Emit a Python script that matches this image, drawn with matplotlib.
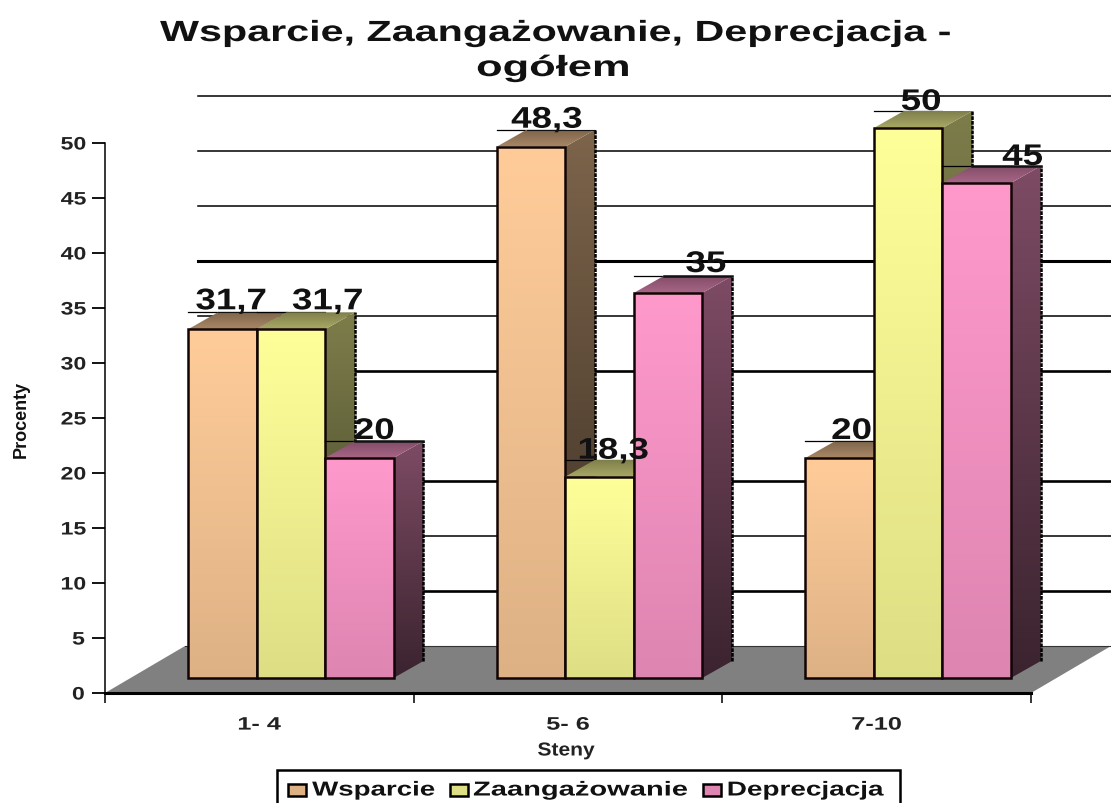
#!/usr/bin/env python3
# Wsparcie / Zaangazowanie / Deprecjacja - fake 3D bars on plain axes
from matplotlib import pyplot as plt
from matplotlib.patches import Polygon, Rectangle
from matplotlib.patheffects import AbstractPathEffect
from matplotlib.transforms import Affine2D
import numpy as np

# data
categories = ["1- 4", "5- 6", "7-10"]
series_names = ["Wsparcie", "Zaangażowanie", "Deprecjacja"]
wsparcie = [31.7, 48.3, 20]
zaangazowanie = [31.7, 18.3, 50]
deprecjacja = [20, 35, 45]
value_labels = [["31,7", "48,3", "20"], ["31,7", "18,3", "50"], ["20", "35", "45"]]
grid_values = [50, 45, 40, 35, 30, 25, 15, 10, 5]
grid_widths = [1.1, 1.1, 1.1, 2.2, 1.1, 1.9, 1.9, 1.1, 1.9]
y_ticks = np.arange(0, 55, 5)

# style
colors = [(255, 204, 153), (255, 255, 153), (255, 153, 204)]
roof_edge = [0.8, 0, 1.8]
W, H = 1111, 804
X0, Y0 = 105, 694            # pixel position of the axes origin
PX_X = 1 / 308.67            # one pixel in category units
PX_Y = 1 / 11.0              # one pixel in percent units
FLOOR_DX, FLOOR_DY = 80 * PX_X, 47 * PX_Y
BAR_DX, BAR_DY = 30 * PX_X, 17 * PX_Y
LIFT = 15 * PX_Y
BAR_W = 68.5 * PX_X
GROUP_START = 83 * PX_X
# label centre shift from the bar centre, pixels
label_shift = [[9, 16, 12], [37, 14, 13], [15, 38, 46]]
label_rise = [[29, 28, 28], [29, 27, 27], [28, 30, 27]]
# legend layout, pixels: swatch left, text left, text right
legend_slots = [(288, 312, 435), (450, 473, 688), (703, 727, 884)]

plt.rcParams["font.family"] = "Liberation Sans"
plt.rcParams["font.weight"] = "bold"

fig = plt.figure(figsize=(W / 100, H / 100), dpi=100)
ax = fig.add_axes([0, 0, 1, 1])
xlim = (-X0 * PX_X, (W - X0) * PX_X)
ylim = ((Y0 - H) * PX_Y, Y0 * PX_Y)


class StretchX(AbstractPathEffect):
    # the reference text is stretched sideways, keep the text centre in place
    def __init__(self, factor):
        super().__init__()
        self.factor = factor

    def draw_path(self, renderer, gc, tpath, affine, rgbFace=None):
        mid = tpath.get_extents().x0 + tpath.get_extents().width / 2
        wide = Affine2D().translate(-mid, 0).scale(self.factor, 1).translate(mid, 0)
        renderer.draw_path(gc, tpath, wide + affine, rgbFace)


def shade(rgb, k):
    return tuple(c * k / 255 for c in rgb)


def gradient_poly(points, top_color, bottom_color, zorder):
    # vertical gradient clipped to a polygon
    points = np.array(points)
    grad = np.linspace(0, 1, 64)[:, None, None]
    img = np.array(top_color)[None, None, :] * (1 - grad) + np.array(bottom_color)[None, None, :] * grad
    extent = (points[:, 0].min(), points[:, 0].max(), points[:, 1].min(), points[:, 1].max())
    im = ax.imshow(img, extent=extent, origin="upper", aspect="auto", zorder=zorder, interpolation="bilinear")
    clip = Polygon(points, closed=True, transform=ax.transData)
    im.set_clip_path(clip)


def fig_text(x, y, s, width=None, **kwargs):
    # x, y in pixels from the top left, width is the wanted width in pixels
    t = fig.text(x / W, 1 - y / H, s, ha="center", va="center", **kwargs)
    if width is not None:
        natural = t.get_window_extent(fig.canvas.get_renderer()).width
        t.set_path_effects([StretchX(width / natural)])
    return t


# floor and back grid lines
ax.add_patch(Polygon([(0, 0), (3, 0), (3 + FLOOR_DX, FLOOR_DY), (FLOOR_DX, FLOOR_DY)],
                     facecolor="#808080", edgecolor="none", zorder=1))
ax.plot([FLOOR_DX, xlim[1]], [FLOOR_DY, FLOOR_DY], color="#333333", lw=0.8, zorder=1.1)
for value, width in zip(grid_values, grid_widths):
    ax.plot([FLOOR_DX + 13 * PX_X, xlim[1]], [FLOOR_DY + value] * 2, color="black", lw=width, zorder=1.2)

# bars, left to right so each one covers the side of the previous one
all_values = [wsparcie, zaangazowanie, deprecjacja]
z = 2.0
for g in range(len(categories)):
    for s, values in enumerate(all_values):
        base = colors[s]
        left = g + GROUP_START + s * BAR_W
        right = left + BAR_W
        top = values[g] + LIFT
        side = [(right, LIFT), (right + BAR_DX, LIFT + BAR_DY), (right + BAR_DX, top + BAR_DY), (right, top)]
        roof = [(left, top), (left + BAR_DX, top + BAR_DY), (right + BAR_DX, top + BAR_DY), (right, top)]
        front = [(left, LIFT), (right, LIFT), (right, top), (left, top)]
        # thin line left behind the roof
        ax.plot([left, right], [top + BAR_DY] * 2, color="black", lw=0.9, zorder=z)
        gradient_poly(side, shade(base, 0.49), shade(base, 0.23), z + 0.01)
        gradient_poly(roof, shade(base, 0.50), shade(base, 0.66), z + 0.02)
        gradient_poly(front, shade(base, 1.0), shade(base, 0.87), z + 0.03)
        ax.add_patch(Polygon(front, fill=False, edgecolor="#120404", lw=1.8, zorder=z + 0.04))
        ax.plot([right + BAR_DX] * 2, [LIFT + BAR_DY, top + BAR_DY], color="black", lw=1.8,
                ls=(0, (1.5, 0.4)), zorder=z + 0.04)
        if roof_edge[s] > 0:
            ax.plot([left + BAR_DX, right + BAR_DX], [top + BAR_DY] * 2, color="#111111",
                    lw=roof_edge[s], zorder=z + 0.04)
        z += 0.1

# value labels on top of everything
for s, values in enumerate(all_values):
    for g, value in enumerate(values):
        cx = g + GROUP_START + (s + 0.5) * BAR_W
        ax.annotate(value_labels[s][g],
                    (cx, value + LIFT),
                    xytext=(label_shift[s][g] * 0.72, (label_rise[s][g] - 1) * 0.72),
                    textcoords="offset points", ha="center", va="center",
                    fontsize=21.5, color="#111111", zorder=10,
                    path_effects=[StretchX(1.23)])

# axes
ax.set_xlim(xlim)
ax.set_ylim(ylim)
ax.patch.set_visible(False)
for name in ("top", "right"):
    ax.spines[name].set_visible(False)
ax.spines["left"].set_position(("data", 0))
ax.spines["left"].set_bounds(0, 50)
ax.spines["left"].set_linewidth(1.1)
ax.spines["left"].set_zorder(9)
ax.spines["bottom"].set_position(("data", 0))
ax.spines["bottom"].set_bounds(0, 3)
ax.spines["bottom"].set_linewidth(2.2)
ax.spines["bottom"].set_zorder(9)
ax.set_yticks(y_ticks)
ax.tick_params(axis="y", length=9.5, width=1.3, labelsize=13, pad=6, labelcolor="#222222")
ax.set_xticks(np.arange(len(categories) + 1))
ax.set_xticklabels([])
ax.tick_params(axis="x", which="major", length=7, width=1.1)
ax.set_xticks(np.arange(len(categories)) + 0.5, minor=True)
ax.set_xticklabels(categories, minor=True)
ax.tick_params(axis="x", which="minor", length=0, labelsize=13, pad=17, labelcolor="#222222")
for label in ax.get_yticklabels():
    label.set_path_effects([StretchX(1.28)])
    label.set_verticalalignment("center_baseline")
for label in ax.get_xticklabels(minor=True):
    label.set_path_effects([StretchX(1.4)])

# texts
fig_text(555, 34, "Wsparcie, Zaangażowanie, Deprecjacja -", width=790, fontsize=21, color="#111111")
fig_text(553, 69, "ogółem", width=154, fontsize=21, color="#111111")
fig_text(566, 752, "Steny", width=57, fontsize=13.5, color="#222222")
fig_text(21, 419, "Procenty", rotation=90, fontsize=13, color="#111111")

# legend, letter widths differ per entry so it is laid out by hand
fig.add_artist(Rectangle((277 / W, -3 / H), 623 / W, 36 / H, transform=fig.transFigure,
                         facecolor="white", edgecolor="black", lw=1.8))
for (swatch_x, text_left, text_right), name, color in zip(legend_slots, series_names, colors):
    fig.add_artist(Rectangle((swatch_x / W, 1 - 797 / H), 18 / W, 12 / H, transform=fig.transFigure,
                             facecolor=shade(color, 0.87), edgecolor="black", lw=1.8))
    fig_text((text_left + text_right) / 2, 791, name, width=text_right - text_left,
             fontsize=14.5, color="#111111")

fig.savefig("out.png", dpi=100)
